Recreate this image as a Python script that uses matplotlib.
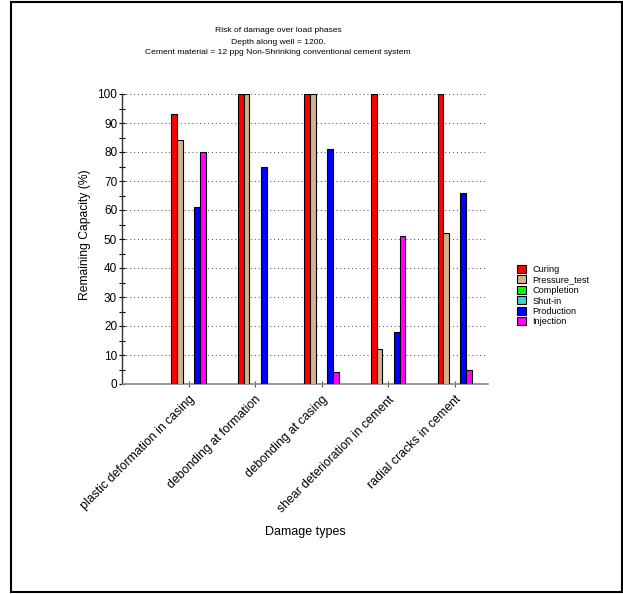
import matplotlib
matplotlib.use("Agg")
import matplotlib.pyplot as plt
from matplotlib.patches import Rectangle
from matplotlib.ticker import MultipleLocator
import numpy as np

plt.rcParams['font.family'] = ['Liberation Sans', 'DejaVu Sans']

categories = ["plastic deformation in casing", "debonding at formation",
              "debonding at casing", "shear deterioration in cement",
              "radial cracks in cement"]
phases = ["Curing", "Pressure_test", "Completion", "Shut-in", "Production", "Injection"]
colors = ["#FF0000", "#D2B48C", "#00FF00", "#40D0C8", "#0000FF", "#FF00FF"]

curing = [93, 100, 100, 100, 100]
pressure_test = [84, 100, 100, 12, 52]
completion = [0, 0, 0, 0, 0]
shut_in = [0, 0, 0, 0, 0]
production = [61, 75, 81, 18, 66]
injection = [80, 0, 4, 51, 5]
series = [curing, pressure_test, completion, shut_in, production, injection]

title_lines = ["Risk of damage over load phases",
               "Depth along well = 1200.",
               "Cement material = 12 ppg Non-Shrinking conventional cement system"]

W, H = 623, 594
fig = plt.figure(figsize=(W / 100, H / 100), dpi=100)
ax = fig.add_axes([122 / W, 1 - 384 / H, (488 - 122) / W, (384 - 94) / H])

x = np.arange(1, len(categories) + 1)
bw = 0.086
handles = []
for i, (vals, col, name) in enumerate(zip(series, colors, phases)):
    vals = np.array(vals, dtype=float)
    lw = [0.8 if v > 0 else 0 for v in vals]
    ax.bar(x + (i - 2.5) * bw, vals, width=bw, color=col, edgecolor='black',
           linewidth=lw, label=name, zorder=3)
    handles.append(Rectangle((0, 0), 1, 1, facecolor=col, edgecolor='black', linewidth=0.8))

ax.set_xlim(0, 5.5)
ax.set_ylim(0, 100)
ax.set_xticks(x)
ax.set_xticklabels(categories, rotation=45, ha='right', rotation_mode='anchor', fontsize=8.8)
ax.yaxis.set_major_locator(MultipleLocator(10))
ax.yaxis.set_minor_locator(MultipleLocator(5))
ax.tick_params(axis='y', which='major', direction='inout', length=5, width=0.8, labelsize=8.5, pad=1)
ax.tick_params(axis='y', which='minor', direction='inout', length=4, width=0.8)
ax.tick_params(axis='x', which='major', direction='inout', length=4, width=0.8, color='#555555', pad=5)
ax.grid(axis='y', which='major', linestyle=(0, (1, 3)), color='#444444', linewidth=0.7, zorder=0)
ax.set_axisbelow(True)
for s in ['top', 'right']:
    ax.spines[s].set_visible(False)
ax.spines['left'].set_color('#333333')
ax.spines['bottom'].set_color('#888888')
ax.spines['left'].set_linewidth(1.0)
ax.spines['bottom'].set_linewidth(1.2)

fig.text(85 / W, 1 - 235 / H, "Remaining Capacity (%)", rotation=90, ha='center', va='center', fontsize=8.7)
fig.text(305 / W, 1 - 532 / H, "Damage types", ha='center', va='center', fontsize=9)

for k, line in enumerate(title_lines):
    fig.text(278 / W, 1 - (31 + 11 * k) / H, line, ha='center', va='center', fontsize=6.1)

fig.legend(handles, phases, loc='upper left', bbox_to_anchor=(517 / W, 1 - 265 / H),
           frameon=False, fontsize=6.6, handlelength=0.95, handleheight=0.95,
           handletextpad=0.7, labelspacing=0.15, borderpad=0, borderaxespad=0)

fig.patches.append(Rectangle((11 / W, 2 / H), (622 - 11) / W, (592 - 2) / H,
                             transform=fig.transFigure, fill=False, edgecolor='black',
                             linewidth=1.5))

fig.savefig("out.png", dpi=100)
